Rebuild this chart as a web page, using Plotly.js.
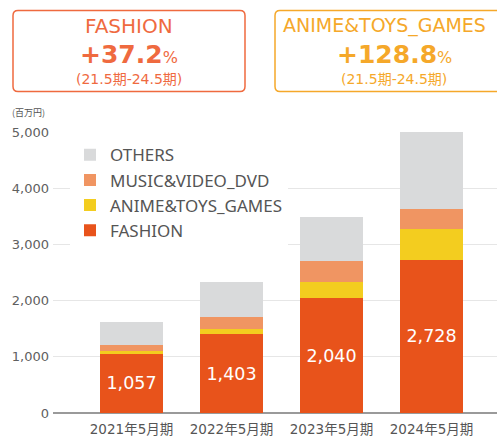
<!DOCTYPE html>
<html>
<head>
<meta charset="utf-8">
<script src="https://cdn.plot.ly/plotly-3.0.1.min.js"></script>
<style>html,body{margin:0;padding:0;background:#fff;}#chart{width:497px;height:436px;}</style>
</head>
<body>
<div id="chart"></div>
<script>
// ---- data ----
const categories = ["2021年5月期", "2022年5月期", "2023年5月期", "2024年5月期"];
const fashion = [1057, 1403, 2040, 2728];
const animeToysGames = [45, 97, 290, 545];
const musicVideoDvd = [100, 216, 375, 355];
const others = [426, 622, 790, 1370];
const seriesNames = ["FASHION", "ANIME&TOYS_GAMES", "MUSIC&VIDEO_DVD", "OTHERS"];
const yTicks = [0, 1000, 2000, 3000, 4000, 5000];
const unitLabel = "(百万円)";
const box1 = {title: "FASHION", value: "+37.2", period: "(21.5期-24.5期)"};
const box2 = {title: "ANIME&TOYS_GAMES", value: "+128.8", period: "(21.5期-24.5期)"};

// ---- geometry helpers (pixel -> paper) ----
const W = 497, H = 436;
const mL = 53, mR = 0, mT = 131.7, mB = H - 413.3;
const pw = W - mL - mR, ph = H - mT - mB;
const px = x => (x - mL) / pw;
const py = y => (H - mB - y) / ph;
function roundRect(x0, y0, x1, y1, r) {
  const P = (x, y) => px(x).toFixed(5) + "," + py(y).toFixed(5);
  return "M" + P(x0 + r, y0) + " L" + P(x1 - r, y0) + " Q" + P(x1, y0) + " " + P(x1, y0 + r) +
    " L" + P(x1, y1 - r) + " Q" + P(x1, y1) + " " + P(x1 - r, y1) +
    " L" + P(x0 + r, y1) + " Q" + P(x0, y1) + " " + P(x0, y1 - r) +
    " L" + P(x0, y0 + r) + " Q" + P(x0, y0) + " " + P(x0 + r, y0) + " Z";
}

const colors = {
  fashion: "#E8531B",
  anime: "#F3CD1F",
  music: "#F09562",
  others: "#D9DADB"
};
const sans = "'Noto Sans', 'Open Sans', sans-serif";
const wide = "'DejaVu Sans', 'Noto Sans CJK JP', sans-serif";

const common = {type: "bar", x: categories, width: 0.63, hoverinfo: "skip", marker: {line: {width: 0}}};
const traces = [
  Object.assign({}, common, {name: seriesNames[0], y: fashion, legendgroup: "a", legendrank: 4, marker: {color: colors.fashion},
    texttemplate: "%{y:,}", textposition: "inside", insidetextanchor: "middle", constraintext: "none",
    textangle: 0, textfont: {color: "#ffffff", size: 17.5, family: wide}}),
  Object.assign({}, common, {name: seriesNames[1], y: animeToysGames, legendgroup: "b", legendrank: 3, marker: {color: colors.anime}, textposition: "none"}),
  Object.assign({}, common, {name: seriesNames[2], y: musicVideoDvd, legendgroup: "c", legendrank: 2, marker: {color: colors.music}, textposition: "none"}),
  Object.assign({}, common, {name: seriesNames[3], y: others, legendgroup: "d", legendrank: 1, marker: {color: colors.others}, textposition: "none"})
];

const c1 = "#EF6A3F", c2 = "#F5A82A";
const layout = {
  width: W, height: H,
  margin: {l: mL, r: mR, t: mT, b: mB, pad: 0},
  paper_bgcolor: "#fff", plot_bgcolor: "#fff",
  barmode: "stack",
  showlegend: true,
  legend: {
    x: px(70), xanchor: "left", y: py(137), yanchor: "top",
    traceorder: "grouped", tracegroupgap: 0,
    bgcolor: "#ffffff", borderwidth: 0,
    font: {size: 17, color: "#555555", family: sans}
  },
  xaxis: {
    type: "category", range: [-0.785, 3.655], fixedrange: true,
    showgrid: false, zeroline: false, showline: false,
    ticks: "outside", ticklen: 4, tickcolor: "rgba(0,0,0,0)",
    tickfont: {size: 13.5, color: "#555555", family: wide}
  },
  yaxis: {
    range: [0, 5000], tickvals: yTicks, tickformat: ",", fixedrange: true,
    showgrid: true, gridcolor: "#E6E6E6", gridwidth: 1,
    zeroline: true, zerolinecolor: "#9A9A9A", zerolinewidth: 2,
    showline: false, ticks: "", ticklabelstandoff: 3,
    tickfont: {size: 13, color: "#606060", family: wide}
  },
  shapes: [
    {type: "path", xref: "paper", yref: "paper", path: roundRect(13, 10, 245, 91, 5), line: {color: c1, width: 1.5}, fillcolor: "rgba(0,0,0,0)", layer: "above"},
    {type: "path", xref: "paper", yref: "paper", path: roundRect(275, 10, 520, 91, 5), line: {color: c2, width: 1.5}, fillcolor: "rgba(0,0,0,0)", layer: "above"}
  ],
  annotations: [
    {xref: "paper", yref: "paper", x: px(129), y: py(25), xanchor: "center", yanchor: "middle", showarrow: false,
      text: box1.title, font: {size: 20, color: c1, family: wide}},
    {xref: "paper", yref: "paper", x: px(129), y: py(54), xanchor: "center", yanchor: "middle", showarrow: false,
      text: "<b>" + box1.value + "</b><span style='font-size:16px'>%</span>", font: {size: 25, color: c1, family: wide}},
    {xref: "paper", yref: "paper", x: px(129), y: py(78.5), xanchor: "center", yanchor: "middle", showarrow: false,
      text: box1.period, font: {size: 14, color: c1, family: wide}},
    {xref: "paper", yref: "paper", x: px(281), y: py(25), xanchor: "left", yanchor: "middle", showarrow: false,
      text: box2.title, font: {size: 19, color: c2, family: wide}},
    {xref: "paper", yref: "paper", x: px(394), y: py(54), xanchor: "center", yanchor: "middle", showarrow: false,
      text: "<b>" + box2.value + "</b><span style='font-size:16px'>%</span>", font: {size: 25, color: c2, family: wide}},
    {xref: "paper", yref: "paper", x: px(394), y: py(78.5), xanchor: "center", yanchor: "middle", showarrow: false,
      text: box2.period, font: {size: 14, color: c2, family: wide}},
    {xref: "paper", yref: "paper", x: px(10), y: py(112), xanchor: "left", yanchor: "middle", showarrow: false,
      text: unitLabel, font: {size: 9, color: "#555555", family: "'Noto Sans CJK JP', sans-serif"}}
  ]
};

Plotly.newPlot("chart", traces, layout, {displayModeBar: false, staticPlot: true});
</script>
</body>
</html>
